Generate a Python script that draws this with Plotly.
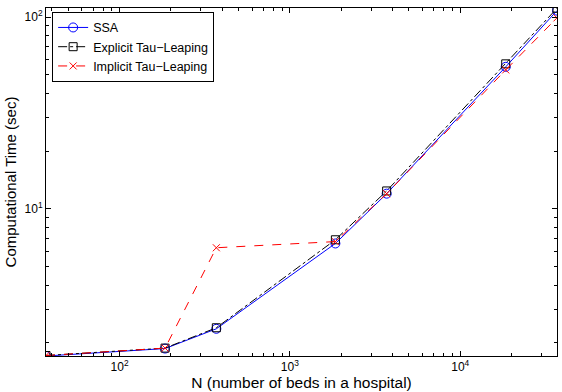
import plotly.graph_objects as go

N = [37, 185, 370, 1850, 3700, 18500, 37000]
ssa = [1.71, 1.87, 2.37, 6.6, 12.0, 55.0, 108.0]
explicit = [1.72, 1.88, 2.40, 6.9, 12.4, 57.0, 111.0]
implicit = [1.72, 1.88, 6.27, 6.75, 12.0, 53.0, 99.0]

xticks = [100, 1000, 10000]
xticklabels = ["10<sup>2</sup>", "10<sup>3</sup>", "10<sup>4</sup>"]
yticks = [10, 100]
yticklabels = ["10<sup>1</sup>", "10<sup>2</sup>"]

fig = go.Figure()
fig.add_trace(go.Scatter(x=N, y=ssa, name="SSA", mode="lines+markers",
                         line=dict(color="#0000ff", width=1),
                         marker=dict(symbol="circle-open", size=9, color="#0000ff", line=dict(width=1))))
fig.add_trace(go.Scatter(x=N, y=explicit, name="Explicit Tau\u2212Leaping", mode="lines+markers",
                         line=dict(color="#000000", width=1, dash="dashdot"),
                         marker=dict(symbol="square-open", size=8, color="#000000", line=dict(width=1))))
fig.add_trace(go.Scatter(x=N, y=implicit, name="Implicit Tau\u2212Leaping", mode="lines+markers",
                         line=dict(color="#ff0000", width=1, dash="dash"),
                         marker=dict(symbol="x-thin-open", size=7, color="#ff0000", line=dict(width=1, color="#ff0000"))))

minor_x = [v * d for d in (10, 100, 1000, 10000) for v in range(2, 10) if 37 <= v * d <= 37000]
minor_y = [v * d for d in (1, 10) for v in range(2, 10) if 1.7 <= v * d <= 112]

fig.update_layout(
    width=562, height=392,
    margin=dict(l=46, r=5, t=8, b=36),
    paper_bgcolor="white", plot_bgcolor="white",
    font=dict(family="Liberation Sans, Arial, sans-serif", size=11, color="black"),
    showlegend=True,
    legend=dict(x=0.012, y=0.989, xanchor="left", yanchor="top",
                bgcolor="white", bordercolor="black", borderwidth=1,
                font=dict(size=12.5), tracegroupgap=0, itemwidth=30),
    xaxis=dict(type="log", range=[1.5682, 4.5682], showgrid=False, zeroline=False,
               showline=True, linecolor="black", linewidth=1, mirror="allticks",
               ticks="inside", ticklen=5, tickcolor="black",
               tickvals=xticks, ticktext=xticklabels, tickfont=dict(size=12),
               minor=dict(tickvals=minor_x, ticks="inside", ticklen=3, tickcolor="black", showgrid=False),
               title=dict(text="N (number of beds in a hospital)", font=dict(size=15.5), standoff=2)),
    yaxis=dict(type="log", range=[0.233, 2.047], showgrid=False, zeroline=False,
               showline=True, linecolor="black", linewidth=1, mirror="allticks",
               ticks="inside", ticklen=5, tickcolor="black",
               tickvals=yticks, ticktext=yticklabels, tickfont=dict(size=12),
               minor=dict(tickvals=minor_y, ticks="inside", ticklen=3, tickcolor="black", showgrid=False),
               title=dict(text="Computational Time (sec)", font=dict(size=15), standoff=4)),
)

fig.write_html("out.html")
